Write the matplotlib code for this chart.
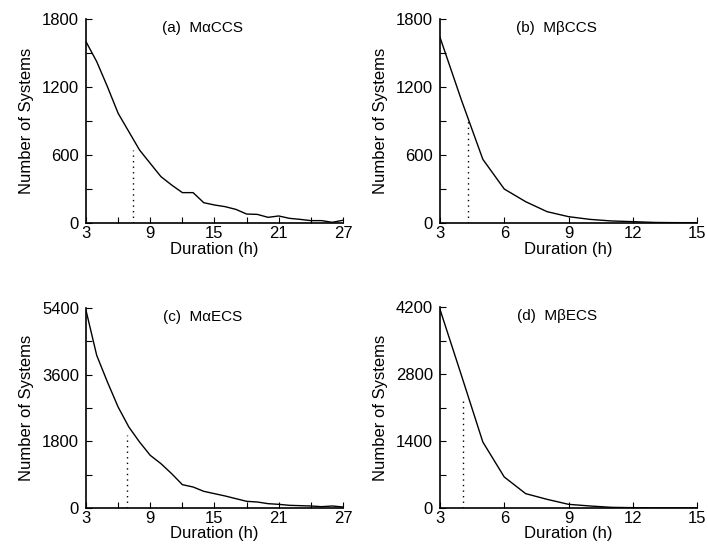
import numpy as np
import matplotlib
matplotlib.use("Agg")
import matplotlib.pyplot as plt

# ---- data ----
hours_long = list(range(3, 28))
hours_short = list(range(3, 16))

a_counts = [1600, 1424, 1203, 968, 806, 644, 526, 409, 335, 268, 268, 179, 159,
            144, 120, 79, 76, 50, 62, 41, 32, 21, 21, 6, 24]
b_counts = [1638, 1085, 562, 300, 188, 100, 56, 32, 18, 12, 5, 3, 3]
c_counts = [5337, 4122, 3402, 2727, 2187, 1782, 1422, 1197, 927, 630, 567, 450,
            387, 324, 252, 180, 162, 117, 99, 72, 63, 54, 36, 54, 27]
d_counts = [4150, 2772, 1379, 648, 300, 181, 77, 42, 14, 7, 2, 2, 2]

# dotted marker lines (x position, height)
a_mark = (7.35, 640)
b_mark = (4.31, 900)
c_mark = (6.82, 1960)
d_mark = (4.09, 2250)

titles = ["(a)  M\u03b1CCS", "(b)  M\u03b2CCS", "(c)  M\u03b1ECS", "(d)  M\u03b2ECS"]

plt.rcParams["font.family"] = ["Liberation Sans", "DejaVu Sans"]

W, H = 708, 558
fig = plt.figure(figsize=(W / 100, H / 100), dpi=100)


def add_axes(left, top, right, bottom):
    return fig.add_axes([left / W, 1 - bottom / H, (right - left) / W, (bottom - top) / H])


panels = [
    (add_axes(86, 19, 343, 223), hours_long, a_counts, a_mark, 1800, 300, 3, 27, 1),
    (add_axes(440, 19, 697, 223), hours_short, b_counts, b_mark, 1800, 300, 3, 15, 1),
    (add_axes(86, 308, 343, 508), hours_long, c_counts, c_mark, 5400, 900, 3, 27, 0),
    (add_axes(440, 307, 697, 508), hours_short, d_counts, d_mark, 4200, 700, 3, 15, 0),
]

for (ax, xs, ys, mark, ymax, ystep, x0, x1, xpad), title in zip(panels, titles):
    ax.plot(xs, ys, color="black", lw=1.0)
    ax.plot([mark[0], mark[0]], [0, mark[1]], color="black", lw=1.0,
            linestyle=(0, (1, 3)))
    ax.set_xlim(x0, x1)
    ax.set_ylim(0, ymax)
    for side in ("top", "right"):
        ax.spines[side].set_visible(False)
    for side in ("left", "bottom"):
        ax.spines[side].set_linewidth(1.2)

    yt = np.arange(0, ymax + 1, ystep)
    ax.set_yticks(yt)
    ax.set_yticklabels([str(int(v)) if i % 2 == 0 else "" for i, v in enumerate(yt)])
    if x1 == 27:
        xt = np.arange(3, 28, 3)
        ax.set_xticks(xt)
        ax.set_xticklabels([str(v) if i % 2 == 0 else "" for i, v in enumerate(xt)])
    else:
        ax.set_xticks([3, 6, 9, 12, 15])
    ax.tick_params(direction="in", length=4, width=0.8, labelsize=12)
    ax.tick_params(axis="x", pad=2)
    ax.tick_params(axis="y", pad=5)
    ax.set_xlabel("Duration (h)", fontsize=12, labelpad=xpad)
    ax.set_ylabel("Number of Systems", fontsize=12, labelpad=6)
    ax.text(0.455, 0.955, title, transform=ax.transAxes, ha="center", va="center",
            fontsize=11)

fig.savefig("out.png", dpi=100)
